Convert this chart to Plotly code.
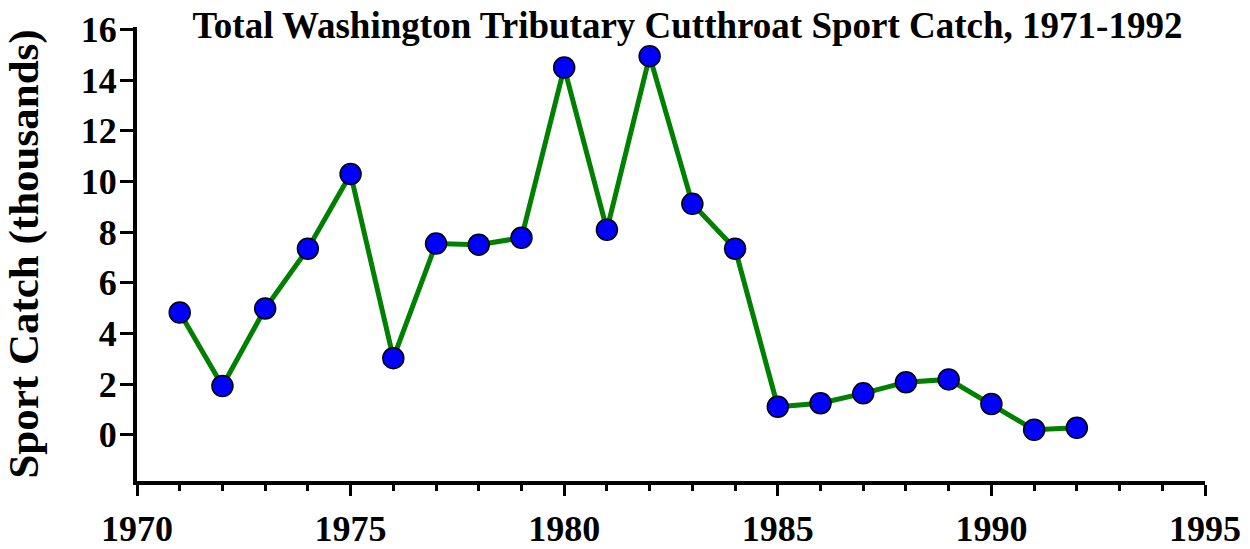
import plotly.graph_objects as go

years = [1971, 1972, 1973, 1974, 1975, 1976, 1977, 1978, 1979, 1980, 1981,
         1982, 1983, 1984, 1985, 1986, 1987, 1988, 1989, 1990, 1991, 1992]
catch_thousands = [4.83, 1.93, 4.99, 7.35, 10.3, 3.03, 7.55, 7.51, 7.78, 14.5, 8.1,
                   14.95, 9.12, 7.35, 1.11, 1.25, 1.64, 2.08, 2.19, 1.22, 0.2, 0.28]
x_ticks = [1970, 1975, 1980, 1985, 1990, 1995]
y_ticks = [0, 2, 4, 6, 8, 10, 12, 14, 16]

FONT = "Liberation Serif"

fig = go.Figure()
fig.add_trace(go.Scatter(
    x=years, y=catch_thousands, mode="lines+markers",
    line=dict(color="#008000", width=5),
    marker=dict(color="#0000FF", size=21, line=dict(color="black", width=1.5)),
    cliponaxis=False, showlegend=False,
))

fig.update_layout(
    width=1250, height=549,
    paper_bgcolor="white", plot_bgcolor="white",
    margin=dict(l=137, r=45, t=27, b=68, autoexpand=False),
    font=dict(family=FONT, color="black"),
    title=dict(text="Total Washington Tributary Cutthroat Sport Catch, 1971-1992",
               font=dict(family=FONT, size=37, color="black", weight="bold"),
               x=0.55, xanchor="center", y=1 - 25 / 549, yanchor="middle",
               xref="container", yref="container", automargin=False),
    xaxis=dict(range=[1970, 1995], tickvals=x_ticks, ticktext=[str(v) for v in x_ticks],
               showgrid=False, zeroline=False, showline=True, linecolor="black", linewidth=4,
               ticks="outside", ticklen=11, tickwidth=3, tickcolor="black",
               minor=dict(dtick=1, tick0=1970, ticks="outside", ticklen=6, tickwidth=3,
                          tickcolor="black", showgrid=False),
               tickfont=dict(family=FONT, size=36, color="black", weight="bold"),
               ticklabelstandoff=2, automargin=False),
    yaxis=dict(range=[-1.82, 16.1], tickvals=y_ticks, ticktext=[str(v) for v in y_ticks],
               showgrid=False, zeroline=False, showline=True, linecolor="black", linewidth=4,
               ticks="outside", ticklen=13, tickwidth=3, tickcolor="black",
               tickfont=dict(family=FONT, size=36, color="black", weight="bold"),
               ticklabelstandoff=-4, automargin=False,
               title=dict(text="Sport Catch (thousands)",
                          font=dict(family=FONT, size=43, color="black", weight="bold"),
                          standoff=31)),
)

fig.write_html("out.html", config={"displayModeBar": False},
               post_script="document.body.style.margin='0px';document.body.style.overflow='hidden';")
